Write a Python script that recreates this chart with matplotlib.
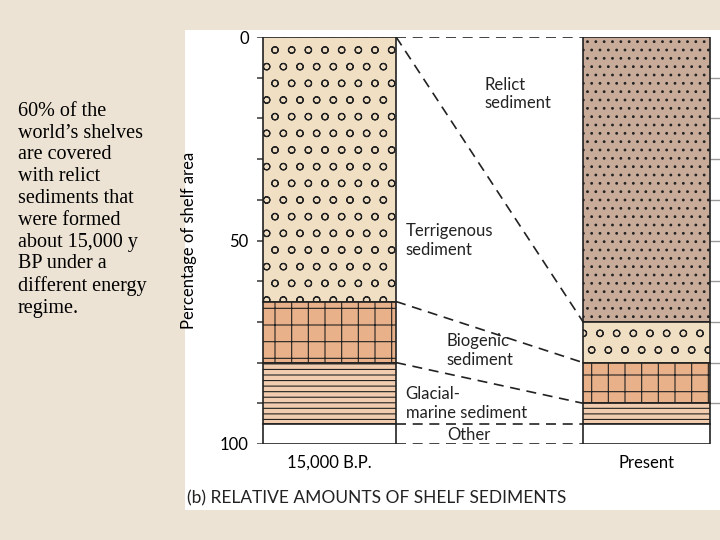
import matplotlib.pyplot as plt
import matplotlib as mpl
mpl.rcParams['hatch.linewidth'] = 0.8

periods = ["15,000 B.P.", "Present"]
layers = ["Relict", "Terrigenous", "Biogenic", "Glacial-marine", "Other"]
values = {
    "15,000 B.P.": [0, 65, 15, 15, 5],
    "Present": [70, 10, 10, 5, 5],
}
colors = ["#c9ab99", "#f1dfc4", "#e9b189", "#f1ccae", "#ffffff"]
hatches = ["..", "o", "+", "---", ""]
widths = [0.42, 0.40]

fig = plt.figure(figsize=(7.2, 5.4), dpi=100)
fig.patch.set_facecolor("#ece3d4")
fig.patches.append(plt.Rectangle((185/720, 30/540), 535/720, 480/540, transform=fig.transFigure,
                                 facecolor="white", edgecolor="none", zorder=-10))
ax = fig.add_axes([257/720, 1-444/540, 463/720, 407/540])
ax.set_facecolor("none")
x0, x1 = -0.229, 1.232
ax.set_xlim(x0, x1)
ax.set_ylim(100, 0)

# short tick lines left of first bar
for y in range(0, 101, 10):
    ax.plot([x0, 0 - widths[0]/2], [y, y], color="#444444", lw=1.2, zorder=1)
for y in range(10, 100, 10):
    ax.plot([1 + widths[1]/2, x1], [y, y], color="#999999", lw=1, zorder=1)

tops = {}
for i, p in enumerate(periods):
    b = 0
    tops[p] = []
    for v, c, h in zip(values[p], colors, hatches):
        tops[p].append(b)
        if v > 0:
            ax.bar(i, v, bottom=b, width=widths[i], color=c, hatch=h, edgecolor="#222222",
                   linewidth=1.2, zorder=2)
        b += v
    tops[p].append(b)

L, R = tops[periods[0]], tops[periods[1]]
xl = 0 + widths[0]/2
xr = 1 - widths[1]/2
for a, b in zip(L, R):
    ax.plot([xl, xr], [a, b], ls=(0, (6, 4)), color="#222222", lw=1.2)

for s in ax.spines.values():
    s.set_visible(False)
ax.set_yticks(range(0, 101, 10))
ax.set_yticklabels(["0", "", "", "", "", "50", "", "", "", "", "100"], fontsize=12, family="Lato")
ax.tick_params(axis="y", length=0, pad=6)
ax.set_xticks([0, 1])
ax.set_xticklabels(periods, fontsize=12, family="Lato")
ax.tick_params(axis="x", length=0, pad=8)
ax.set_ylabel("Percentage of shelf area", fontsize=12, family="Lato")
ax.yaxis.set_label_coords(-0.13, 0.5)

tk = dict(fontsize=12, family="Lato", color="#222222", va="center")
ax.text(0.49, 14, "Relict\nsediment", **tk)
ax.text(0.24, 50, "Terrigenous\nsediment", **tk)
ax.text(0.37, 77, "Biogenic\nsediment", **tk)
ax.text(0.24, 90, "Glacial-\nmarine sediment", **tk)
ax.text(0.37, 97.7, "Other", **tk)

fig.text(187/720, 1-498/540, "(b) RELATIVE AMOUNTS OF SHELF SEDIMENTS", fontsize=12.5, family="Lato",
         color="#222222", va="center")
fig.text(18/720, 1-210/540, "60% of the\nworld’s shelves\nare covered\nwith relict\nsediments that\nwere formed\nabout 15,000 y\nBP under a\ndifferent energy\nregime.",
         fontsize=14.5, family="Liberation Serif", va="center", linespacing=1.2)
fig.savefig("out.png", dpi=100, facecolor=fig.get_facecolor())
